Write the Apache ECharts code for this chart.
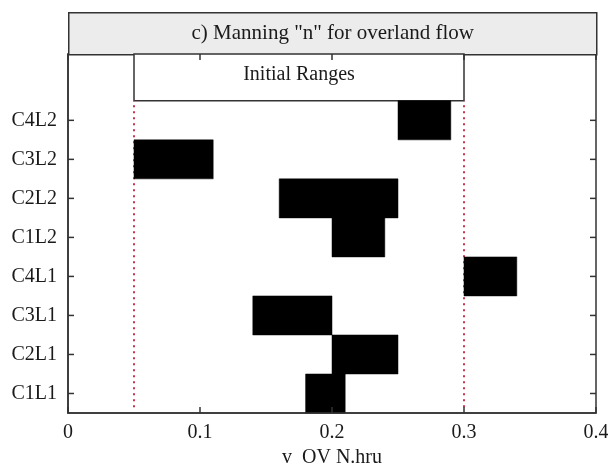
<!DOCTYPE html>
<html>
<head>
<meta charset="utf-8">
<script src="https://cdn.jsdelivr.net/npm/echarts@6/dist/echarts.min.js"></script>
<style>html,body{margin:0;padding:0;background:#fff;}#c{width:608px;height:467px;}</style>
</head>
<body>
<div id="c"></div>
<script>
// Data (bottom to top)
var categories = ['C1L1', 'C2L1', 'C3L1', 'C4L1', 'C1L2', 'C2L2', 'C3L2', 'C4L2'];
var lowValues  = [0.18, 0.20, 0.14, 0.30, 0.20, 0.16, 0.05, 0.25];
var highValues = [0.21, 0.25, 0.20, 0.34, 0.24, 0.25, 0.11, 0.29];
var initialRange = [0.05, 0.30];
var xTicks = [0, 0.1, 0.2, 0.3, 0.4];
var titleText = 'c) Manning "n" for overland flow';
var xName = 'v  OV N.hru';
var rangeLabel = 'Initial Ranges';

var yMin = 0.5, yMax = 9.7;
var catPositions = categories.map(function (c, i) { return i + 1; });
var FONT = 'Liberation Serif';
var LINE = '#333';
var TXT = '#1a1a1a';

var chart = echarts.init(document.getElementById('c'), null, {renderer: 'canvas'});

var barData = categories.map(function (c, i) { return [lowValues[i], highValues[i], i + 1]; });

var option = {
  animation: false,
  backgroundColor: '#fff',
  grid: {left: 68, right: 12, top: 54, bottom: 54, outerBoundsMode: 'none', containLabel: false,
    show: true, borderColor: LINE, borderWidth: 1.5, backgroundColor: 'transparent'},
  graphic: [{
    type: 'group',
    left: 68, top: 12,
    children: [{
      type: 'rect',
      shape: {x: 0, y: 0, width: 528, height: 42},
      style: {fill: '#ececec', stroke: LINE, lineWidth: 1.5}
    }, {
      type: 'text',
      x: 264, y: 21,
      style: {text: titleText, fill: TXT, font: '21px "' + FONT + '"', align: 'center', verticalAlign: 'middle'}
    }]
  }],
  xAxis: [{
    type: 'value', min: xTicks[0], max: xTicks[xTicks.length - 1], interval: 0.1,
    position: 'bottom',
    name: xName, nameLocation: 'middle', nameGap: 28,
    nameTextStyle: {fontFamily: FONT, fontSize: 20, color: TXT},
    axisLine: {show: true, lineStyle: {color: LINE, width: 1.5}},
    axisTick: {show: true, inside: true, length: 6, lineStyle: {color: LINE, width: 1.5}},
    axisLabel: {fontFamily: FONT, fontSize: 20, color: TXT, margin: 10},
    splitLine: {show: false},
    z: 10
  }, {
    type: 'value', min: xTicks[0], max: xTicks[xTicks.length - 1], interval: 0.1,
    position: 'top',
    axisLine: {show: false},
    axisTick: {show: true, inside: true, length: 6, lineStyle: {color: LINE, width: 1.5}},
    axisLabel: {show: false},
    splitLine: {show: false},
    z: 10
  }],
  yAxis: [{
    type: 'value', min: yMin, max: yMax,
    position: 'left',
    axisLine: {show: true, lineStyle: {color: LINE, width: 1.5}},
    axisTick: {show: false},
    axisLabel: {customValues: catPositions, fontFamily: FONT, fontSize: 20, color: TXT, margin: 11,
      formatter: function (v) { return categories[Math.round(v) - 1] || ''; }},
    splitLine: {show: false},
    z: 10
  }],
  series: [{
    type: 'custom',
    name: 'ranges',
    xAxisIndex: 0, yAxisIndex: 0,
    data: barData,
    renderItem: function (params, api) {
      var p0 = api.coord([api.value(0), api.value(2) - 0.5]);
      var p1 = api.coord([api.value(1), api.value(2) + 0.5]);
      return {
        type: 'rect',
        shape: {x: p0[0], y: p1[1], width: p1[0] - p0[0], height: p0[1] - p1[1]},
        style: {fill: '#000', stroke: '#000', lineWidth: 0.5}
      };
    },
    z: 3
  }, {
    type: 'custom',
    name: 'yTicks',
    xAxisIndex: 0, yAxisIndex: 0,
    data: catPositions.map(function (p) { return [p]; }),
    renderItem: function (params, api) {
      var cs = params.coordSys;
      var y = api.coord([0, api.value(0)])[1];
      return {
        type: 'group',
        children: [{
          type: 'line',
          shape: {x1: cs.x, y1: y, x2: cs.x + 6, y2: y},
          style: {stroke: LINE, lineWidth: 1.5}
        }, {
          type: 'line',
          shape: {x1: cs.x + cs.width - 6, y1: y, x2: cs.x + cs.width, y2: y},
          style: {stroke: LINE, lineWidth: 1.5}
        }]
      };
    },
    silent: true,
    z: 5
  }, {
    type: 'custom',
    name: 'initialBox',
    xAxisIndex: 0, yAxisIndex: 0,
    data: [[initialRange[0], initialRange[1], categories.length + 0.5, yMax]],
    renderItem: function (params, api) {
      var p0 = api.coord([api.value(0), api.value(2)]);
      var p1 = api.coord([api.value(1), api.value(3)]);
      return {
        type: 'group',
        children: [{
          type: 'rect',
          shape: {x: p0[0], y: p1[1], width: p1[0] - p0[0], height: p0[1] - p1[1]},
          style: {fill: '#fff', stroke: LINE, lineWidth: 1.5}
        }, {
          type: 'text',
          x: (p0[0] + p1[0]) / 2, y: p1[1] + 21,
          style: {text: rangeLabel, fill: TXT, font: '20px "' + FONT + '"', align: 'center', verticalAlign: 'middle'}
        }]
      };
    },
    z: 1
  }, {
    type: 'line',
    name: 'lowBound',
    data: [[initialRange[0], yMin + 0.15], [initialRange[0], categories.length + 0.5]],
    showSymbol: false, symbol: 'none',
    lineStyle: {color: '#c8324a', width: 2, type: [2, 4]},
    z: 2
  }, {
    type: 'line',
    name: 'highBound',
    data: [[initialRange[1], yMin + 0.15], [initialRange[1], categories.length + 0.5]],
    showSymbol: false, symbol: 'none',
    lineStyle: {color: '#c8324a', width: 2, type: [2, 4]},
    z: 2
  }]
};
chart.setOption(option);
</script>
</body>
</html>
